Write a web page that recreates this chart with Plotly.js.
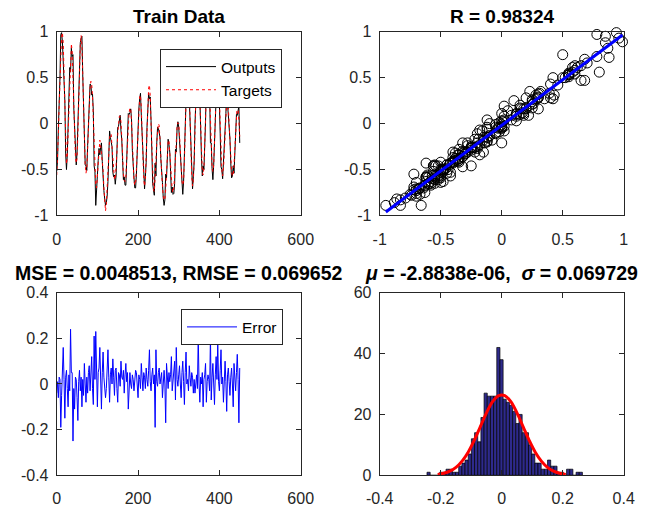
<!DOCTYPE html>
<html>
<head>
<meta charset="utf-8">
<script src="https://cdn.plot.ly/plotly-3.0.1.min.js"></script>
<style>html,body{margin:0;padding:0;background:#fff;}#chart{width:646px;height:508px;}</style>
</head>
<body>
<div id="chart"></div>
<script>
// ---- Data ----
// Train targets, sampled every 2 time steps from t = 0
var targets = [
 -0.56,-0.40,-0.12, 0.20, 0.52, 0.78, 0.94, 0.99, 0.88, 0.55,
  0.10,-0.30,-0.44,-0.36,-0.10, 0.25, 0.58, 0.80, 0.87, 0.78,
  0.50, 0.15,-0.18,-0.36,-0.43,-0.38,-0.12, 0.25, 0.60, 0.85,
  0.96, 0.85, 0.55, 0.15,-0.22,-0.45,-0.54,-0.48,-0.28, 0.00,
  0.25, 0.40, 0.46, 0.43, 0.30, 0.05,-0.25,-0.50,-0.66,-0.70,
 -0.55,-0.35,-0.20,-0.18,-0.24,-0.32,-0.36,-0.50,-0.70,-0.86,
 -0.95,-0.88,-0.70,-0.48,-0.28,-0.16,-0.11,-0.12,-0.25,-0.42,
 -0.55,-0.61,-0.60,-0.50,-0.32,-0.12, 0.02, 0.08, 0.08, 0.02,
 -0.15,-0.38,-0.55,-0.62,-0.63,-0.58,-0.42,-0.20, 0.00, 0.12,
  0.17, 0.16, 0.02,-0.25,-0.48,-0.62,-0.67,-0.64,-0.50,-0.25,
  0.02, 0.20, 0.29, 0.31, 0.18,-0.10,-0.40,-0.60,-0.68,-0.60,
 -0.35,-0.02, 0.25, 0.39, 0.42, 0.30, 0.00,-0.32,-0.58,-0.72,
 -0.74,-0.62,-0.42,-0.20,-0.05, 0.00,-0.02,-0.15,-0.35,-0.55,
 -0.70,-0.79,-0.83,-0.83,-0.72,-0.50,-0.30,-0.19,-0.18,-0.30,
 -0.48,-0.63,-0.72,-0.75,-0.70,-0.55,-0.35,-0.15,-0.03, 0.01,
  0.00,-0.12,-0.32,-0.52,-0.63,-0.67,-0.62,-0.40,-0.05, 0.30,
  0.55, 0.65, 0.60, 0.35, 0.00,-0.35,-0.58,-0.68,-0.62,-0.40,
 -0.05, 0.30, 0.55, 0.68, 0.68, 0.50, 0.20,-0.12,-0.38,-0.52,
 -0.56,-0.48,-0.22, 0.12, 0.42, 0.62, 0.70, 0.60, 0.32, 0.00,
 -0.28,-0.46,-0.52,-0.45,-0.20, 0.12, 0.40, 0.58, 0.65, 0.55,
  0.28,-0.05,-0.32,-0.50,-0.57,-0.50,-0.32,-0.08, 0.12, 0.23,
  0.26, 0.18, 0.00,-0.22,-0.40,-0.52,-0.57,-0.56,-0.45,-0.25,
 -0.02, 0.15, 0.22, 0.18, 0.02,-0.14
];
// Error = targets - outputs, same samples
var errors = [
 -0.04, 0.01,-0.06, 0.03, 0.02,-0.19,-0.05, 0.10, 0.16, 0.02,
 -0.15, 0.03, 0.06,-0.02,-0.10, 0.04,-0.03, 0.24, 0.05, 0.05,
 -0.25,-0.02,-0.11, 0.03, 0.02,-0.06,-0.16, 0.01, 0.06,-0.03,
  0.03,-0.10, 0.02,-0.05, 0.09, 0.00,-0.08, 0.03,-0.04, 0.05,
  0.08,-0.03, 0.04, 0.12,-0.02,-0.09, 0.21, 0.02, 0.23, 0.01,
 -0.10, 0.05, 0.07, 0.16, 0.02,-0.11, 0.05, 0.14, 0.03,-0.04,
 -0.06,-0.02, 0.09, 0.15, 0.03,-0.08, 0.04, 0.07, 0.00, 0.11,
  0.03,-0.05, 0.06, 0.07,-0.02,-0.08, 0.05, 0.04,-0.01, 0.10,
  0.03, 0.02, 0.06,-0.04, 0.04, 0.09, 0.01, 0.05,-0.11, 0.02,
  0.05, 0.00,-0.02, 0.04, 0.02,-0.03, 0.03, 0.06, 0.05, 0.01,
 -0.06, 0.04, 0.02,-0.02, 0.09, 0.03,-0.03, 0.05, 0.03,-0.02,
  0.07, 0.02,-0.01, 0.06, 0.15, 0.01,-0.03, 0.04, 0.07, 0.00,
  0.04,-0.19, 0.15, 0.01,-0.01, 0.05, 0.07, 0.00, 0.03, 0.05,
 -0.06, 0.02, 0.06, 0.00,-0.17, 0.09, 0.03,-0.02, 0.05, 0.01,
  0.04, 0.12,-0.03, 0.02, 0.06, 0.10,-0.07, 0.16, 0.02,-0.01,
  0.04, 0.08, 0.00,-0.06, 0.05, 0.10, 0.01,-0.09, 0.05, 0.14,
  0.00, 0.02,-0.03, 0.08, 0.03,-0.01, 0.05, 0.03,-0.04, 0.02,
 -0.04, 0.02, 0.04,-0.02, 0.21, 0.00,-0.08, 0.03, 0.00, 0.05,
 -0.10, 0.02, 0.04, 0.09,-0.08, 0.01, 0.04, 0.02,-0.03, 0.21,
 -0.07, 0.03, 0.09, 0.00,-0.09, 0.04, 0.12, 0.02, 0.18, 0.01,
 -0.03, 0.06, 0.15, 0.00, 0.03,-0.08, 0.04, 0.10, 0.01,-0.12,
  0.04, 0.07, 0.01,-0.05, 0.03, 0.07, 0.00,-0.10, 0.09, 0.02,
 -0.03, 0.05, 0.13, 0.02,-0.17, 0.07
];
var timeStart = 0, timeStep = 2;

// Error histogram (bin counts)
var histFirstCenter = -0.2398, histBinWidth = 0.0104;
var histCounts = [1,0,0,0,1,1,2,2,1,1,3,4,5,7,12,14,11,19,27,26,26,26,42,38,25,24,23,21,17,20,14,14,10,7,4,4,2,2,5,3,3,1,1,0,2,2,0,1,1];

// Fitted normal curve
var normX = [-0.21,-0.19,-0.17,-0.15,-0.13,-0.11,-0.09,-0.07,-0.05,-0.03,-0.01,0.01,0.03,0.05,0.07,0.09,0.11,0.13,0.15,0.17,0.19,0.21];
var normY = [0.28,0.65,1.36,2.62,4.66,7.6,11.5,16.0,20.5,24.2,26.2,26.2,24.2,20.5,16.0,11.5,7.6,4.66,2.62,1.36,0.65,0.28];

// Titles and tick labels
var titleTrain = 'Train Data';
var titleR = 'R = 0.98324';
var titleMSE = 'MSE = 0.0048513, RMSE = 0.069652';
var titleMu = '<i>μ</i> = -2.8838e-06,&nbsp; <i>σ</i> = 0.069729';
var tickTime = [0, 200, 400, 600], tickTimeText = ['0','200','400','600'];
var tickUnit = [-1,-0.5,0,0.5,1], tickUnitText = ['-1','-0.5','0','0.5','1'];
var tickErr = [-0.4,-0.2,0,0.2,0.4], tickErrText = ['-0.4','-0.2','0','0.2','0.4'];
var tickCount = [0,20,40,60], tickCountText = ['0','20','40','60'];

// ---- Derived ----
var outputs = targets.map(function(t, i){ return +(t - errors[i]).toFixed(3); });
// least squares line outputs ~ targets
var n = targets.length, sx=0, sy=0, sxx=0, sxy=0;
for (var i=0;i<n;i++){ sx+=targets[i]; sy+=outputs[i]; sxx+=targets[i]*targets[i]; sxy+=targets[i]*outputs[i]; }
var slope = (n*sxy - sx*sy)/(n*sxx - sx*sx), icpt = (sy - slope*sx)/n;
var tmin = Math.min.apply(null, targets), tmax = Math.max.apply(null, targets);
var fitX = [tmin, tmax], fitY = [slope*tmin+icpt, slope*tmax+icpt];

var FONT = 'Liberation Sans, Arial, Helvetica, sans-serif';
var AX = '#262626';
function axis(extra){
  var a = {showline:true, mirror:'ticks', linecolor:AX, linewidth:1, ticks:'inside', ticklen:5,
    tickcolor:AX, tickwidth:1, showgrid:false, zeroline:false, tickmode:'array',
    tickfont:{family:FONT, size:16, color:AX}, fixedrange:true};
  for (var k in extra) a[k]=extra[k];
  return a;
}

var traces = [
  {type:'scatter', mode:'lines', x0:timeStart, dx:timeStep, y:outputs, xaxis:'x', yaxis:'y',
   line:{color:'#000000', width:1}, name:'Outputs', legend:'legend'},
  {type:'scatter', mode:'lines', x0:timeStart, dx:timeStep, y:targets, xaxis:'x', yaxis:'y',
   line:{color:'#ff0000', width:1, dash:'dot'}, name:'Targets', legend:'legend'},
  {type:'scatter', mode:'markers', x:targets, y:outputs, xaxis:'x2', yaxis:'y2', cliponaxis:false,
   marker:{symbol:'circle-open', size:10, color:'#000000', line:{width:1, color:'#000000'}}, showlegend:false},
  {type:'scatter', mode:'lines', x:fitX, y:fitY, xaxis:'x2', yaxis:'y2',
   line:{color:'#0000ff', width:3}, showlegend:false},
  {type:'scatter', mode:'lines', x0:timeStart, dx:timeStep, y:errors, xaxis:'x3', yaxis:'y3',
   line:{color:'#0000ff', width:1}, name:'Error', legend:'legend2'},
  {type:'bar', x0:histFirstCenter, dx:histBinWidth, y:histCounts, width:histBinWidth, xaxis:'x4', yaxis:'y4',
   marker:{color:'#2e2a8c', line:{color:'#000000', width:0.7}}, showlegend:false},
  {type:'scatter', mode:'lines', x:normX, y:normY, xaxis:'x4', yaxis:'y4',
   line:{color:'#ff0000', width:3, shape:'spline'}, showlegend:false}
];

var dxL = [0.0878, 0.4655], dxR = [0.5878, 0.9655];
var dyT = [0.5758, 0.9376], dyB = [0.0644, 0.4238];
function title(txt, x, y, sz){
  return {text:'<b>'+txt+'</b>', xref:'paper', yref:'paper', x:x, y:y, xanchor:'center', yanchor:'middle',
          showarrow:false, font:{family:FONT, size:sz, color:'#000000'}};
}
var legStyle = {bgcolor:'#ffffff', bordercolor:'#262626', borderwidth:1, itemwidth:50,
  font:{family:FONT, size:15.5, color:'#000000'}, xanchor:'left', yanchor:'top', tracegroupgap:0};
var xs = {ticklabelstandoff:9}, ys = {ticklabelstandoff:4};
function merge(a,b){ var o={}; for (var k in a) o[k]=a[k]; for (var k2 in b) o[k2]=b[k2]; return o; }

var layout = {
  width:646, height:508, margin:{l:0, r:0, t:0, b:0},
  paper_bgcolor:'#ffffff', plot_bgcolor:'#ffffff', bargap:0,
  xaxis: axis(merge(xs,{domain:dxL, anchor:'y', range:[0,600], tickvals:tickTime, ticktext:tickTimeText})),
  yaxis: axis(merge(ys,{domain:dyT, anchor:'x', range:[-1,1], tickvals:tickUnit, ticktext:tickUnitText})),
  xaxis2: axis(merge(xs,{domain:dxR, anchor:'y2', range:[-1,1], tickvals:tickUnit, ticktext:tickUnitText})),
  yaxis2: axis(merge(ys,{domain:dyT, anchor:'x2', range:[-1,1], tickvals:tickUnit, ticktext:tickUnitText})),
  xaxis3: axis(merge(xs,{domain:dxL, anchor:'y3', range:[0,600], tickvals:tickTime, ticktext:tickTimeText})),
  yaxis3: axis(merge(ys,{domain:dyB, anchor:'x3', range:[-0.4,0.4], tickvals:tickErr, ticktext:tickErrText})),
  xaxis4: axis(merge(xs,{domain:dxR, anchor:'y4', range:[-0.4,0.4], tickvals:tickErr, ticktext:tickErrText})),
  yaxis4: axis(merge(ys,{domain:dyB, anchor:'x4', range:[0,60], tickvals:tickCount, ticktext:tickCountText})),
  legend: Object.assign({x:0.2477, y:0.9035}, legStyle),
  legend2: Object.assign({x:0.2802, y:0.3911}, legStyle),
  annotations:[
    title(titleTrain, 0.2767, 0.9675, 19),
    title(titleR, 0.7767, 0.9675, 19),
    title(titleMSE, 0.2767, 0.4625, 19.5),
    title(titleMu, 0.7767, 0.4625, 19.5)
  ]
};
Plotly.newPlot('chart', traces, layout, {displayModeBar:false, staticPlot:true});
</script>
</body>
</html>
